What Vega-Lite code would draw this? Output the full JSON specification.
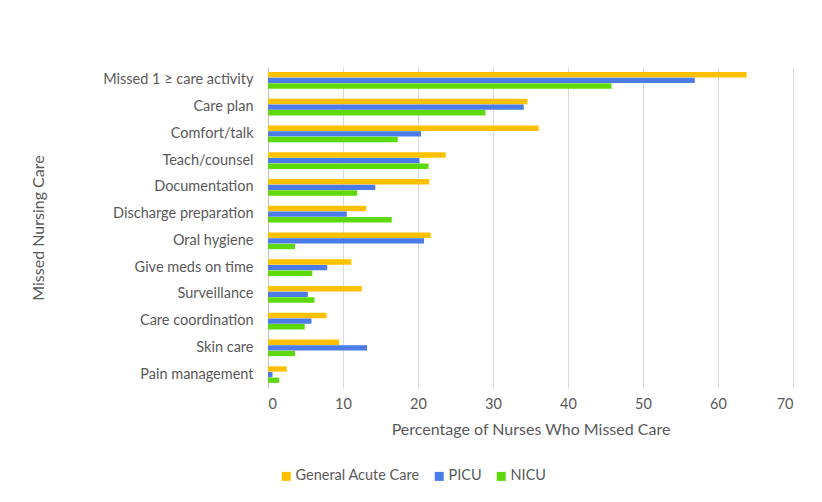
{
  "$schema": "https://vega.github.io/schema/vega-lite/v6.json",
  "autosize": {"type": "none"},
  "padding": {"left": 268, "top": 67, "right": 29, "bottom": 114},
  "width": 525,
  "height": 321,
  "background": "white",
  "data": {"values": [
    {"item": "Missed 1 ≥ care activity", "unit": "General Acute Care", "pct": 63.8},
    {"item": "Missed 1 ≥ care activity", "unit": "PICU", "pct": 56.9},
    {"item": "Missed 1 ≥ care activity", "unit": "NICU", "pct": 45.8},
    {"item": "Care plan", "unit": "General Acute Care", "pct": 34.6},
    {"item": "Care plan", "unit": "PICU", "pct": 34.1},
    {"item": "Care plan", "unit": "NICU", "pct": 29.0},
    {"item": "Comfort/talk", "unit": "General Acute Care", "pct": 36.1},
    {"item": "Comfort/talk", "unit": "PICU", "pct": 20.4},
    {"item": "Comfort/talk", "unit": "NICU", "pct": 17.3},
    {"item": "Teach/counsel", "unit": "General Acute Care", "pct": 23.7},
    {"item": "Teach/counsel", "unit": "PICU", "pct": 20.2},
    {"item": "Teach/counsel", "unit": "NICU", "pct": 21.4},
    {"item": "Documentation", "unit": "General Acute Care", "pct": 21.5},
    {"item": "Documentation", "unit": "PICU", "pct": 14.3},
    {"item": "Documentation", "unit": "NICU", "pct": 11.9},
    {"item": "Discharge preparation", "unit": "General Acute Care", "pct": 13.1},
    {"item": "Discharge preparation", "unit": "PICU", "pct": 10.5},
    {"item": "Discharge preparation", "unit": "NICU", "pct": 16.5},
    {"item": "Oral hygiene ", "unit": "General Acute Care", "pct": 21.7},
    {"item": "Oral hygiene ", "unit": "PICU", "pct": 20.8},
    {"item": "Oral hygiene ", "unit": "NICU", "pct": 3.6},
    {"item": "Give meds on time", "unit": "General Acute Care", "pct": 11.1},
    {"item": "Give meds on time", "unit": "PICU", "pct": 7.9},
    {"item": "Give meds on time", "unit": "NICU", "pct": 5.9},
    {"item": "Surveillance", "unit": "General Acute Care", "pct": 12.5},
    {"item": "Surveillance", "unit": "PICU", "pct": 5.3},
    {"item": "Surveillance", "unit": "NICU", "pct": 6.2},
    {"item": "Care coordination", "unit": "General Acute Care", "pct": 7.8},
    {"item": "Care coordination", "unit": "PICU", "pct": 5.8},
    {"item": "Care coordination", "unit": "NICU", "pct": 4.9},
    {"item": "Skin care", "unit": "General Acute Care", "pct": 9.5},
    {"item": "Skin care", "unit": "PICU", "pct": 13.2},
    {"item": "Skin care", "unit": "NICU", "pct": 3.6},
    {"item": "Pain management", "unit": "General Acute Care", "pct": 2.5},
    {"item": "Pain management", "unit": "PICU", "pct": 0.6},
    {"item": "Pain management", "unit": "NICU", "pct": 1.5}
  ]},
  "mark": {"type": "bar"},
  "encoding": {
    "y": {
      "field": "item", "type": "nominal",
      "sort": ["Missed 1 ≥ care activity", "Care plan", "Comfort/talk", "Teach/counsel", "Documentation", "Discharge preparation", "Oral hygiene ", "Give meds on time", "Surveillance", "Care coordination", "Skin care", "Pain management"],
      "scale": {"paddingInner": 0.38, "paddingOuter": 0.19},
      "axis": {
        "title": "Missed Nursing Care",
        "ticks": false,
        "domain": true,
        "domainColor": "#BFBFBF",
        "labelPadding": 15,
        "labelFontSize": 14.5,
        "labelColor": "#595959",
        "titleFontSize": 16,
        "titleFontWeight": "normal",
        "titleColor": "#595959",
        "titlePadding": 56,
        "grid": false
      }
    },
    "yOffset": {
      "field": "unit", "type": "nominal",
      "sort": ["General Acute Care", "PICU", "NICU"],
      "scale": {"paddingInner": 0.06, "paddingOuter": 0}
    },
    "x": {
      "field": "pct", "type": "quantitative",
      "scale": {"domain": [0, 70], "nice": false},
      "axis": {
        "title": "Percentage of Nurses Who Missed Care",
        "values": [0, 10, 20, 30, 40, 50, 60, 70],
        "ticks": false,
        "domain": false,
        "grid": true,
        "gridColor": "#D9D9D9",
        "labelPadding": 9,
        "labelFontSize": 14.5,
        "labelColor": "#595959",
        "titleFontSize": 16,
        "titleFontWeight": "normal",
        "titleColor": "#595959",
        "titlePadding": 11
      }
    },
    "color": {
      "field": "unit", "type": "nominal",
      "sort": ["General Acute Care", "PICU", "NICU"],
      "scale": {"domain": ["General Acute Care", "PICU", "NICU"], "range": ["#FFC000", "#4A7BE6", "#5ED90B"]},
      "legend": {
        "title": null,
        "orient": "none",
        "legendX": 11,
        "legendY": 402,
        "direction": "horizontal",
        "symbolType": "square",
        "symbolSize": 81,
        "symbolStrokeWidth": 0,
        "labelFontSize": 14.5,
        "labelColor": "#595959",
        "labelOffset": 2,
        "columnPadding": 12
      }
    }
  },
  "config": {
    "font": "Lato",
    "view": {"stroke": null}
  }
}
